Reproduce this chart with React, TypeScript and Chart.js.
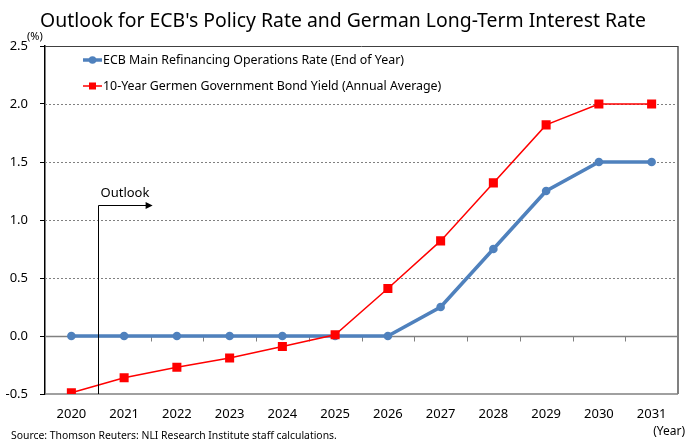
import React, { useEffect, useRef } from "react";
import { Chart, registerables } from "chart.js";

Chart.register(...registerables);

const years = ["2020", "2021", "2022", "2023", "2024", "2025", "2026", "2027", "2028", "2029", "2030", "2031"];
const ecbRate = [0, 0, 0, 0, 0, 0, 0, 0.25, 0.75, 1.25, 1.5, 1.5];
const bundYield = [-0.49, -0.36, -0.27, -0.19, -0.09, 0.01, 0.41, 0.82, 1.32, 1.82, 2.0, 2.0];
const seriesLabels = [
  "ECB Main Refinancing Operations Rate (End of Year)",
  "10-Year Germen Government Bond Yield (Annual Average)",
];
const yMin = -0.5;
const yMax = 2.5;
const yStep = 0.5;
const titleText = "Outlook for ECB's Policy Rate and German Long-Term Interest Rate";
const sourceText = "Source: Thomson Reuters: NLI Research Institute staff calculations.";
const yUnit = "(%)";
const xUnit = "(Year)";
const outlookLabel = "Outlook";
const outlookStartIndex = 0.5;
const outlookEndIndex = 1.54;
const outlookLevel = 1.13;

const BLUE = "#4F81BD";
const RED = "#FF0000";
const FONT = "'Noto Sans', sans-serif";

const decorPlugin = {
  id: "decor",
  beforeDatasetsDraw(chart: any) {
    const { ctx, chartArea, scales } = chart;
    const y = scales.y;
    const x = scales.x;
    ctx.save();
    ctx.strokeStyle = "#808080";
    ctx.lineWidth = 1;
    ctx.setLineDash([2, 2]);
    for (let v = yMin + yStep; v < yMax - 1e-9; v += yStep) {
      if (Math.abs(v) < 1e-9) continue;
      const py = Math.round(y.getPixelForValue(v)) + 0.5;
      ctx.beginPath();
      ctx.moveTo(chartArea.left, py);
      ctx.lineTo(chartArea.right, py);
      ctx.stroke();
    }
    ctx.setLineDash([]);
    const y0 = Math.round(y.getPixelForValue(0)) + 0.5;
    ctx.strokeStyle = "#808080";
    ctx.lineWidth = 1.5;
    ctx.beginPath();
    ctx.moveTo(chartArea.left, y0);
    ctx.lineTo(chartArea.right, y0);
    ctx.stroke();
    ctx.lineWidth = 1;
    for (let i = 0; i <= years.length; i++) {
      const px = Math.round(x.getPixelForValue(i - 0.5)) + 0.5;
      ctx.beginPath();
      ctx.moveTo(px, y0);
      ctx.lineTo(px, y0 + 5);
      ctx.stroke();
    }
    ctx.lineWidth = 1.5;
    ctx.beginPath();
    ctx.moveTo(chartArea.left, chartArea.bottom);
    ctx.lineTo(chartArea.right, chartArea.bottom);
    ctx.stroke();
    ctx.lineWidth = 2;
    ctx.beginPath();
    ctx.moveTo(chartArea.right, chartArea.top);
    ctx.lineTo(chartArea.right, chartArea.bottom);
    ctx.stroke();
    ctx.strokeStyle = "#404040";
    ctx.lineWidth = 1;
    ctx.beginPath();
    ctx.moveTo(chartArea.left, chartArea.top + 0.5);
    ctx.lineTo(chartArea.right, chartArea.top + 0.5);
    ctx.stroke();
    ctx.restore();
  },
  afterDatasetsDraw(chart: any) {
    const { ctx, chartArea, scales } = chart;
    const x = scales.x;
    const y = scales.y;
    ctx.save();
    const ax = Math.round(x.getPixelForValue(outlookStartIndex)) + 0.5;
    const ay = Math.round(y.getPixelForValue(outlookLevel)) + 0.5;
    const ex = x.getPixelForValue(outlookEndIndex);
    ctx.strokeStyle = "#000";
    ctx.fillStyle = "#000";
    ctx.lineWidth = 1;
    ctx.beginPath();
    ctx.moveTo(ax, chartArea.bottom);
    ctx.lineTo(ax, ay);
    ctx.lineTo(ex - 5, ay);
    ctx.stroke();
    ctx.beginPath();
    ctx.moveTo(ex, ay);
    ctx.lineTo(ex - 7, ay - 3.5);
    ctx.lineTo(ex - 7, ay + 3.5);
    ctx.closePath();
    ctx.fill();
    ctx.font = `13px ${FONT}`;
    ctx.textAlign = "left";
    ctx.textBaseline = "middle";
    ctx.fillText(outlookLabel, ax + 2, ay - 12);

    // Legend
    const lx0 = chartArea.left + 38;
    const lx1 = chartArea.left + 57;
    const lm = (lx0 + lx1) / 2;
    const ly = [chartArea.top + 14, chartArea.top + 40];
    ctx.strokeStyle = BLUE;
    ctx.lineWidth = 3.5;
    ctx.beginPath();
    ctx.moveTo(lx0, ly[0]);
    ctx.lineTo(lx1, ly[0]);
    ctx.stroke();
    ctx.fillStyle = BLUE;
    ctx.beginPath();
    ctx.arc(lm, ly[0], 3.8, 0, Math.PI * 2);
    ctx.fill();
    ctx.strokeStyle = RED;
    ctx.lineWidth = 1.5;
    ctx.beginPath();
    ctx.moveTo(lx0, ly[1]);
    ctx.lineTo(lx1, ly[1]);
    ctx.stroke();
    ctx.fillStyle = RED;
    ctx.fillRect(lm - 3.5, ly[1] - 3.5, 7, 7);
    ctx.fillStyle = "#000";
    ctx.font = `12.4px ${FONT}`;
    ctx.textAlign = "left";
    ctx.textBaseline = "middle";
    ctx.fillText(seriesLabels[0], lx1 + 1, ly[0]);
    ctx.fillText(seriesLabels[1], lx1 + 1, ly[1]);
    ctx.restore();
  },
  afterDraw(chart: any) {
    const { ctx, chartArea, width } = chart;
    ctx.save();
    ctx.fillStyle = "#000";
    ctx.font = `19.4px ${FONT}`;
    ctx.textAlign = "center";
    ctx.textBaseline = "middle";
    ctx.fillText(titleText, width / 2, 21);
    ctx.font = `10.4px ${FONT}`;
    ctx.textAlign = "left";
    ctx.fillText(sourceText, 11, 436);
    ctx.font = `12px ${FONT}`;
    ctx.textAlign = "right";
    ctx.fillText(xUnit, width - 1, 432);
    ctx.font = `11px ${FONT}`;
    ctx.textAlign = "left";
    ctx.fillText(yUnit, chartArea.left - 18, chartArea.top - 9);
    ctx.restore();
  },
};

export default function App() {
  const ref = useRef<HTMLCanvasElement | null>(null);
  useEffect(() => {
    if (!ref.current) return;
    const chart = new Chart(ref.current, {
      type: "line",
      data: {
        labels: years,
        datasets: [
          {
            label: seriesLabels[0],
            data: ecbRate,
            borderColor: BLUE,
            backgroundColor: BLUE,
            borderWidth: 3.5,
            pointStyle: "circle",
            pointRadius: 4.3,
            pointBorderWidth: 0,
            pointBackgroundColor: BLUE,
            tension: 0,
            order: 2,
          },
          {
            label: seriesLabels[1],
            data: bundYield,
            borderColor: RED,
            backgroundColor: RED,
            borderWidth: 1.5,
            pointStyle: "rect",
            pointRadius: 6.4,
            pointBorderWidth: 0,
            pointBackgroundColor: RED,
            tension: 0,
            order: 1,
          },
        ],
      },
      options: {
        animation: false,
        responsive: false,
        devicePixelRatio: 1,
        layout: { padding: { top: 46, right: 8, left: 0, bottom: 0 } },
        plugins: {
          legend: { display: false },
          title: { display: false },
          tooltip: { enabled: false },
        },
        scales: {
          x: {
            offset: true,
            grid: { display: false },
            border: { display: false },
            ticks: { color: "#000", font: { family: FONT, size: 13 }, padding: 4, maxRotation: 0 },
            afterFit: (s: any) => {
              s.height = 47;
            },
          },
          y: {
            min: yMin,
            max: yMax,
            grid: { display: true, drawOnChartArea: false, drawTicks: true, tickLength: 5, color: "#000" },
            border: { display: true, color: "#000", width: 1.5 },
            ticks: {
              stepSize: yStep,
              color: "#000",
              font: { family: FONT, size: 13 },
              padding: 12,
              callback: (v: any) => Number(v).toFixed(1),
            },
            afterFit: (s: any) => {
              s.width = 45;
            },
          },
        },
      },
      plugins: [decorPlugin],
    });
    return () => chart.destroy();
  }, []);
  return (
    <div style={{ position: "absolute", left: 0, top: 0, width: 686, height: 441, background: "#fff" }}>
      <canvas ref={ref} width={686} height={441} />
    </div>
  );
}
